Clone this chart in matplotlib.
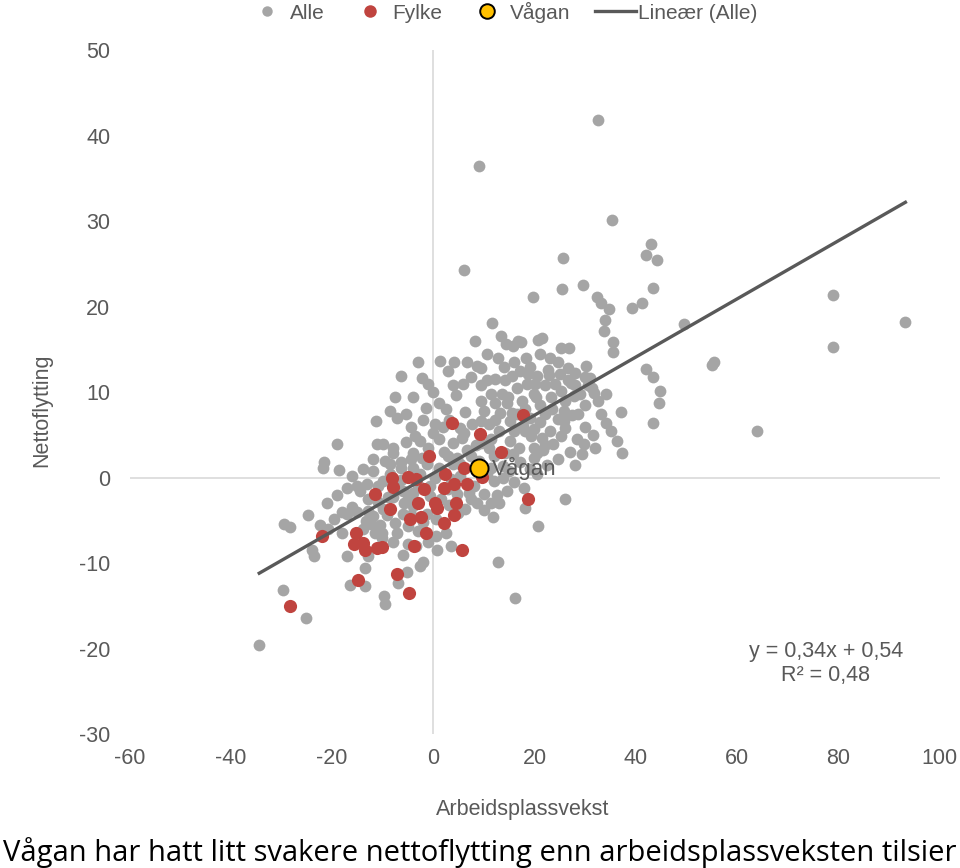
import matplotlib
matplotlib.use("Agg")
import numpy as np
import matplotlib.pyplot as plt
from matplotlib.lines import Line2D

# --- data ---
alle = [
    (32.4, 41.8), (8.9, 36.5), (35.2, 30.1), (6.1, 24.3), (25.5, 25.7), (29.6, 22.6),
    (42.9, 27.3), (41.9, 26.1), (44.2, 25.5), (43.3, 22.2), (19.6, 21.2), (25.3, 22.1),
    (32.2, 21.1), (33.0, 20.4), (34.6, 19.8), (39.3, 19.9), (41.1, 20.4), (33.8, 18.5),
    (33.6, 17.2), (35.4, 15.9), (35.4, 14.7), (49.4, 18.0), (79.0, 21.4), (79.0, 15.3),
    (93.2, 18.2), (55.5, 13.6), (55.1, 13.2), (63.8, 5.5), (41.9, 12.7), (43.3, 11.8),
    (44.8, 10.2), (44.6, 8.7), (43.3, 6.4), (37.1, 7.7), (36.3, 4.3), (37.3, 2.9),
    (26.0, -2.5), (20.7, -5.6), (12.8, -9.8), (16.2, -14.0),
    (-3.0, 13.6), (-6.5, 11.9), (1.2, 13.7), (2.8, 12.5), (-7.5, 9.4), (-7.1, 7.0),
    (-11.3, 6.6), (-19.0, 4.0), (-11.1, 3.9), (-21.7, 1.9), (-21.9, 1.2), (-18.6, 0.9),
    (-11.9, 2.2), (-13.2, -0.7), (-14.6, -1.5),
    (-29.6, -5.4), (-28.4, -5.8), (-24.7, -4.4), (-19.6, -4.8), (-17.0, -4.2), (-15.0, -4.0),
    (-20.9, -6.0), (-23.9, -8.4), (-23.5, -9.2), (-17.0, -9.1), (-13.0, -9.1), (-13.6, -10.6),
    (-16.4, -12.5), (-13.6, -12.7), (-29.8, -13.1), (-25.1, -16.4), (-34.4, -19.6),
    (-13.0, -3.9), (-13.4, -5.0), (-12.4, -5.4), (-11.5, -6.4), (-9.7, -13.8), (-9.5, -14.7),
    (-6.9, -12.3), (-5.3, -11.0), (-2.6, -10.3), (-2.0, -9.9), (0.8, -8.4), (0.6, -6.8),
    (-3.0, -6.2), (-5.1, -7.7),
    (-9.9, -3.6), (-9.1, -4.4), (-5.9, -3.0), (-4.0, -3.3), (-6.1, -4.2), (-4.5, -4.4),
    (-1.2, -4.2), (4.9, -4.1), (6.3, -3.7), (8.7, -3.0), (11.3, -2.9), (-7.5, -5.3),
    (-7.1, -6.4), (-5.1, -5.6), (-10.1, -6.4), (-10.1, -7.0), (11.7, -4.6),
    (11.5, 18.1), (8.3, 16.0), (13.4, 16.6), (14.4, 15.7), (15.8, 15.4), (16.6, 16.0),
    (12.8, 14.0), (6.7, 13.5), (8.7, 13.1), (9.3, 12.9), (17.2, 15.9), (20.7, 16.1),
    (21.5, 16.4), (25.1, 15.2), (26.7, 15.2), (18.2, 14.0), (24.5, 13.5), (26.5, 12.9),
    (30.2, 13.1), (22.7, 12.6),
    (18.6, 12.2), (20.5, 11.9), (22.9, 12.0), (24.9, 12.2), (28.0, 12.3), (30.0, 11.8),
    (31.0, 11.7), (19.8, 9.8), (20.3, 9.4), (23.3, 9.4), (25.1, 10.1), (27.1, 11.1),
    (27.7, 9.6), (29.0, 9.8), (31.8, 9.9), (34.0, 9.8), (31.4, 10.5), (30.6, 10.8),
    (25.7, 7.8), (27.3, 7.4), (24.5, 6.9), (25.7, 6.7), (33.0, 7.5), (34.0, 6.4),
    (17.6, 6.1), (19.8, 5.7), (19.2, 4.9), (21.5, 4.7), (25.1, 4.9), (23.7, 4.0),
    (28.4, 4.6), (29.8, 4.0), (19.8, 3.5), (20.5, 2.9), (21.7, 3.3), (19.8, 2.3),
    (24.5, 2.2), (29.4, 2.8), (17.8, -1.2),
    (-2.2, 11.7), (3.9, 10.9), (5.9, 11.0), (9.3, 10.8), (12.2, 11.6), (14.2, 11.5),
    (15.6, 11.9), (4.5, 9.7), (11.3, 9.8), (13.6, 9.8), (14.8, 9.4), (9.3, 9.0),
    (12.2, 8.8), (14.6, 8.7), (2.4, 8.0), (6.3, 7.7), (9.9, 7.8), (13.2, 7.6),
    (15.6, 7.6), (-8.5, 7.8), (0.4, 6.3), (1.8, 6.0), (5.3, 5.8), (7.7, 6.3),
    (9.3, 6.7), (10.9, 6.3), (12.2, 6.8), (15.2, 6.7), (0.0, 5.3), (1.0, 4.6),
    (3.8, 4.1), (5.7, 4.7), (9.3, 4.1), (11.3, 4.6), (15.2, 4.3), (-3.6, 4.9),
    (-2.6, 4.3), (-9.9, 4.0), (-7.9, 3.5), (-7.9, 2.9), (-4.1, 2.9), (-4.5, 2.2),
    (-6.5, 1.8), (-2.2, 2.3), (2.8, 2.6), (4.7, 2.3), (6.7, 3.2), (11.9, 2.6),
    (14.2, 2.9), (15.8, 2.8), (-9.5, 2.0), (-8.5, 1.6), (-6.5, 1.2), (-4.0, 1.2),
    (-1.2, 1.6), (1.0, 1.2), (3.8, 1.6), (5.3, 1.6), (11.3, 1.2), (13.8, 1.4),
    (-2.6, 0.5), (0.4, 0.0), (3.4, -0.1), (5.3, 0.2), (11.9, -0.4), (13.8, 0.0),
    (-9.9, -0.4), (-7.1, -0.6), (-0.6, -0.9), (2.8, -1.3), (-4.0, -1.8), (-0.6, -2.1),
    (4.7, -1.9), (9.9, -1.9),
    (16.5, 10.5), (17.5, 9.0), (18.0, 8.0), (16.0, 5.5), (16.8, 3.5), (17.0, 1.8),
    (15.0, 0.8), (16.0, -0.5), (14.5, -1.5), (12.5, -2.0), (7.0, -1.8), (8.0, -1.0),
    (10.5, 0.5), (7.5, 2.5), (8.5, 3.8), (6.0, 5.3), (3.0, 6.8), (1.0, 8.8),
    (-1.5, 8.2), (-4.5, 6.0), (-5.5, 4.2), (-1.0, 3.5), (2.0, 3.0), (-3.0, -0.8),
    (-6.0, -1.5), (-8.0, -2.2), (-5.0, -2.5), (1.5, -2.5), (3.0, -3.2), (-2.0, -5.2),
    (0.5, -4.8), (2.5, -6.5), (-17.0, -1.2), (-15.0, -1.0), (-16.0, -3.4), (-18.0, -4.0),
    (-11.0, -2.8), (-12.0, -4.5), (-10.5, -5.5), (-9.0, -2.3), (-11.0, -1.0), (-13.0, -2.5),
    (22.0, 7.5), (21.0, 6.5), (23.0, 5.5), (18.5, 11.0), (22.0, 10.8), (26.5, 11.5),
    (28.5, 7.5), (30.0, 6.0), (31.5, 5.0), (27.0, 3.0), (22.5, 1.5), (20.5, 0.5),
    (19.0, 1.0),
    (14.0, 13.0), (16.0, 13.5), (19.0, 13.0), (21.0, 14.5), (23.0, 14.0), (10.5, 14.5),
    (7.5, 11.8), (10.5, 11.5), (17.0, 12.5), (20.0, 11.0), (24.0, 11.0), (26.0, 9.0),
    (28.0, 10.8), (32.5, 9.0), (30.0, 8.5), (21.0, 8.5), (23.5, 8.0), (19.0, 7.0),
    (16.5, 7.5), (13.0, 5.5), (11.0, 3.5), (9.0, 2.0), (4.0, -1.2), (7.5, -2.5),
    (10.0, -3.8), (13.0, -3.0), (-2.0, 6.8), (-5.5, 7.5), (-4.0, 9.5), (0.0, 10.0),
    (-1.0, 11.0), (4.0, 13.5), (-6.5, -0.2), (-8.5, 0.5), (-12.0, 0.8), (-14.0, 1.0),
    (-16.0, 0.2), (-19.0, -2.0), (-21.0, -3.0), (-22.5, -5.5), (-18.0, -6.5), (-14.0, -6.0),
    (-8.0, -7.5), (-6.0, -9.0), (-3.5, -8.0), (-1.0, -7.5), (3.5, -8.0), (18.0, 5.5),
    (22.0, 3.8), (26.0, 5.8), (32.0, 3.5), (35.0, 5.5), (28.0, 1.5), (18.0, -3.5),
]
alle_x = [p[0] for p in alle]
alle_y = [p[1] for p in alle]

fylke_x = [3.6, 9.1, -0.8, 13.4, 6.1, 9.5, -8.1, -7.9, -5.1, -3.4, 2.2, 4.1, 6.7, -1.8,
           2.0, -8.5, -3.0, 0.4, 0.8, 4.5, -4.7, -2.4, 2.0, 4.0, -1.4, -10.1, -3.8, 5.7,
           -7.1, -4.9, -22.1, -15.2, -15.6, -14.0, -13.6, -11.1, -14.8, -28.4, -11.5,
           17.6, 18.7]
fylke_y = [6.4, 5.1, 2.6, 3.0, 1.1, 0.1, 0.0, -1.1, 0.1, -0.1, 0.5, -0.7, -0.7, -1.3,
           -1.2, -3.7, -3.0, -3.0, -3.5, -2.9, -4.8, -4.6, -5.3, -4.3, -6.4, -8.1, -8.0, -8.4,
           -11.3, -13.5, -6.8, -6.5, -7.7, -7.6, -8.4, -8.2, -11.9, -15.0, -1.9,
           7.3, -2.5]

vagan_x = [8.9]
vagan_y = [1.1]

slope, intercept, r2 = 0.34, 0.54, 0.48
x_ticks = [-60, -40, -20, 0, 20, 40, 60, 80, 100]
y_ticks = [-30, -20, -10, 0, 10, 20, 30, 40, 50]

grey_txt = "#595959"
plt.rcParams["font.family"] = ["Liberation Sans", "DejaVu Sans"]
plt.rcParams["axes.unicode_minus"] = False

fig = plt.figure(figsize=(9.6, 8.68), dpi=100)
ax = fig.add_axes([0.135, 0.154, 0.844, 0.788])

ax.axhline(0, color="#D9D9D9", lw=1.2, zorder=0)
ax.axvline(0, color="#D9D9D9", lw=1.2, zorder=0)

ax.scatter(alle_x, alle_y, s=72, color="#A5A5A5", linewidths=0, zorder=2)
ax.scatter(fylke_x, fylke_y, s=90, color="#C0443F", linewidths=0, zorder=3)
ax.scatter(vagan_x, vagan_y, s=170, color="#FFC000", edgecolors="black",
           linewidths=1.4, zorder=4)

xl = np.array([min(alle_x), max(alle_x)])
ax.plot(xl, slope * xl + intercept, color="#595959", lw=2.4, zorder=3)

ax.text(vagan_x[0] + 2.6, vagan_y[0], "Vågan", fontsize=16, color=grey_txt,
        va="center", ha="left", zorder=5)
r2_txt = f"{r2:.2f}".replace(".", ",")
ax.text(77.5, -21.7, "y = 0,34x + 0,54\nR² = " + r2_txt,
        fontsize=15.5, color=grey_txt, ha="center", va="center", linespacing=1.2)

ax.set_xlim(-60, 100)
ax.set_ylim(-30, 50)
ax.set_xticks(x_ticks)
ax.set_yticks(y_ticks)
ax.tick_params(length=0, labelsize=15.5, labelcolor=grey_txt)
ax.tick_params(axis="y", pad=14)
ax.tick_params(axis="x", pad=10)
for s in ax.spines.values():
    s.set_visible(False)

fig.text(0.043, 0.527, "Nettoflytting", rotation=90, fontsize=15.5, color=grey_txt,
         ha="center", va="center")
fig.text(0.544, 0.067, "Arbeidsplassvekst", fontsize=15.5, color=grey_txt,
         ha="center", va="center")

handles = [
    Line2D([], [], marker="o", ls="", color="#A5A5A5", markersize=7.5, mew=0),
    Line2D([], [], marker="o", ls="", color="#C0443F", markersize=9, mew=0),
    Line2D([], [], marker="o", ls="", markerfacecolor="#FFC000", markeredgecolor="black",
           markersize=10.5, mew=1.4),
    Line2D([], [], color="#595959", lw=2.4),
]
fig.legend(handles, ["Alle", "Fylke", "Vågan", "Lineær (Alle)"], ncol=4,
           loc="center", bbox_to_anchor=(0.523, 0.986), frameon=False, fontsize=15,
           labelcolor=grey_txt, handletextpad=0.1, columnspacing=1.15, handlelength=2.0)

fig.text(0.003, 0.018, "Vågan har hatt litt svakere nettoflytting enn arbeidsplassveksten tilsier",
         fontsize=21, color="black", ha="left", va="center",
         family=["Liberation Sans Narrow", "Open Sans", "DejaVu Sans"])

fig.savefig("out.png", dpi=100)
